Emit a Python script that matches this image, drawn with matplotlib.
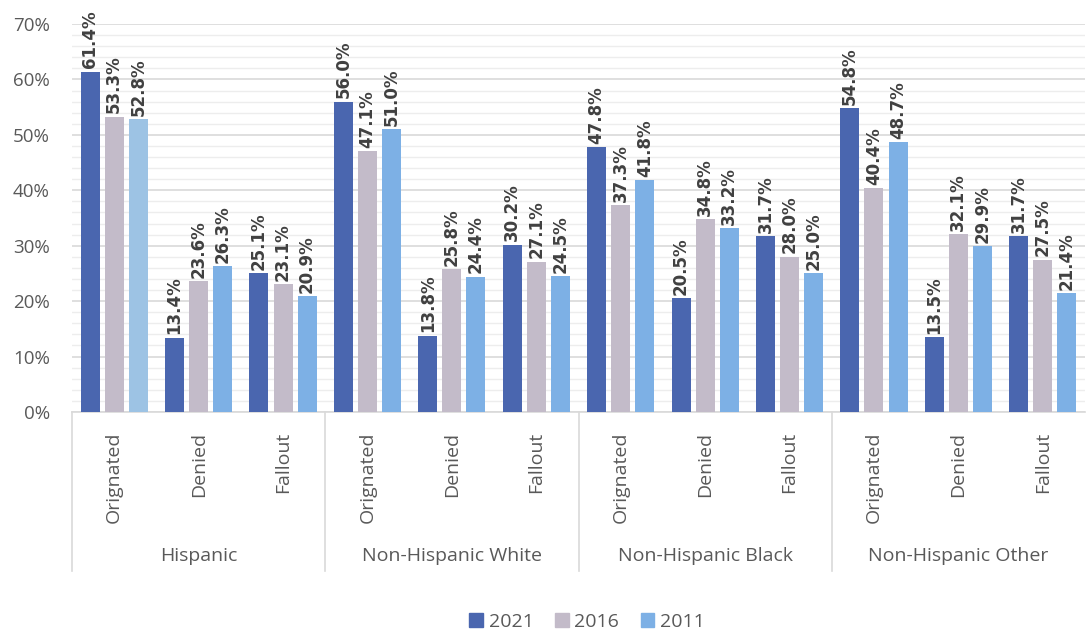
import matplotlib.pyplot as plt
import numpy as np
from matplotlib.ticker import MultipleLocator, FuncFormatter
from matplotlib.patches import Patch

plt.rcParams['font.family'] = ['Open Sans', 'DejaVu Sans']

groups = ['Hispanic', 'Non-Hispanic White', 'Non-Hispanic Black', 'Non-Hispanic Other']
outcomes = ['Orignated', 'Denied', 'Fallout']
years = ['2021', '2016', '2011']

# percent by group, outcome order: Orignated, Denied, Fallout
v2021 = [61.4, 13.4, 25.1, 56.0, 13.8, 30.2, 47.8, 20.5, 31.7, 54.8, 13.5, 31.7]
v2016 = [53.3, 23.6, 23.1, 47.1, 25.8, 27.1, 37.3, 34.8, 28.0, 40.4, 32.1, 27.5]
v2011 = [52.8, 26.3, 20.9, 51.0, 24.4, 24.5, 41.8, 33.2, 25.0, 48.7, 29.9, 21.4]

colors = ['#4A66AF', '#C3BBC9', '#7DB0E5']
txt = '#595959'

W, H = 1086, 635
fig = plt.figure(figsize=(W / 100, H / 100), dpi=100)
ax = fig.add_axes([72 / W, 1 - 412 / H, (1085 - 72) / W, (412 - 24) / H])

x = np.arange(len(v2021))
bw = 0.225
step = 0.285
for i, (vals, c) in enumerate(zip([v2021, v2016, v2011], colors)):
    bars = ax.bar(x + (i - 1) * step, vals, bw, color=c, zorder=3, label=years[i])
    if i == 2:
        bars[0].set_facecolor('#9DC3E4')
    for b, v in zip(bars, vals):
        ax.text(b.get_x() + b.get_width() / 2, v + 0.6, f'{v:.1f}%', rotation=90,
                ha='center', va='bottom', fontsize=12, fontweight='bold',
                family='DejaVu Sans', color='#404040', zorder=4)

ax.set_xlim(-0.5, len(x) - 0.5)
ax.set_ylim(0, 70)
ax.yaxis.set_major_locator(MultipleLocator(10))
ax.yaxis.set_minor_locator(MultipleLocator(2))
ax.yaxis.set_major_formatter(FuncFormatter(lambda v, p: f'{v:.0f}%'))
ax.grid(axis='y', which='major', color='#D9D9D9', linewidth=1.2, zorder=0)
ax.grid(axis='y', which='minor', color='#EDEDED', linewidth=1.0, zorder=0)
ax.tick_params(axis='y', which='both', length=0, labelsize=13.5, labelcolor=txt, pad=16)
for s in ['top', 'right', 'left']:
    ax.spines[s].set_visible(False)
ax.spines['bottom'].set_color('#D9D9D9')
ax.spines['bottom'].set_linewidth(1.2)

ax.set_xticks(x)
ax.set_xticklabels(outcomes * len(groups), rotation=90, fontsize=14, color=txt, va='top')
ax.tick_params(axis='x', length=0, pad=14)

# group separators and group names below the outcome labels
tr = ax.get_xaxis_transform()
for k in range(len(groups)):
    xs = k * 3 - 0.5
    ax.plot([xs, xs], [0, -0.41], transform=tr, color='#D9D9D9', lw=1.2, clip_on=False)
for k, g in enumerate(groups):
    ax.text(k * 3 + 1, -0.37, g, transform=tr, ha='center', va='center',
            fontsize=14, color=txt)

handles = [Patch(color=c, label=y) for c, y in zip(colors, years)]
fig.legend(handles=handles, loc='center', bbox_to_anchor=(587 / W, 1 - 622 / H), ncol=3,
           frameon=False, fontsize=14, handlelength=0.7, handleheight=0.7,
           handletextpad=0.3, columnspacing=1.1, labelcolor=txt)

fig.savefig('out.png', dpi=100)
